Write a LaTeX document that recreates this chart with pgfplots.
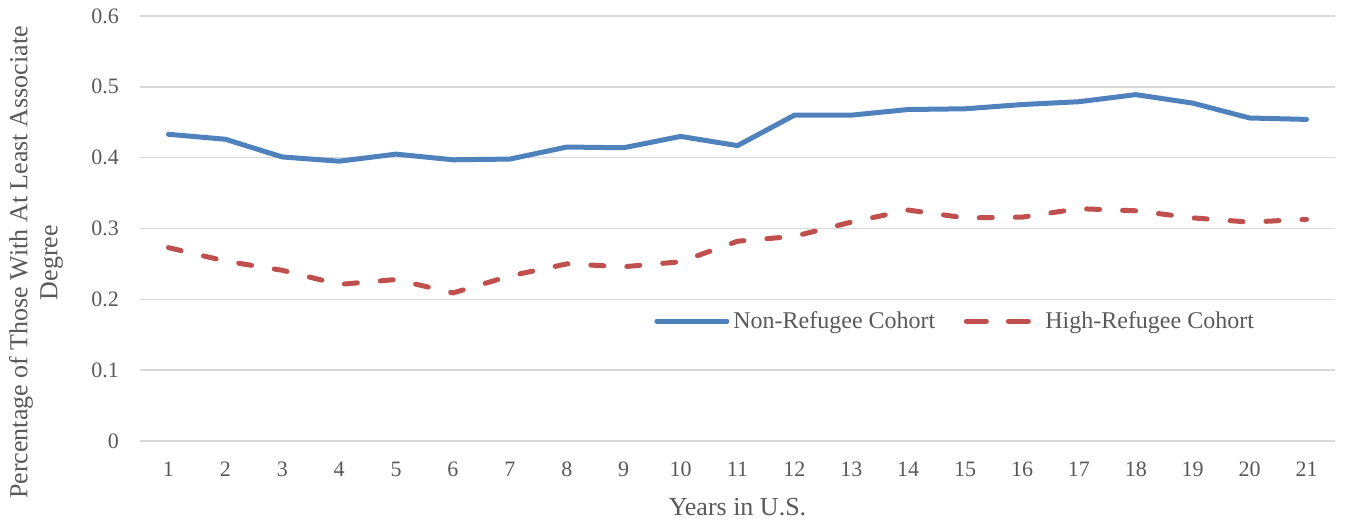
\documentclass[border=0pt]{standalone}
\usepackage{fontspec}
\setmainfont{Liberation Serif}
\usepackage{pgfplots}
\pgfplotsset{compat=1.18}
\definecolor{txtgray}{HTML}{595959}
\definecolor{gridgray}{HTML}{D9D9D9}
\definecolor{nonref}{HTML}{4F81BD}
\definecolor{highref}{HTML}{C0504D}
\begin{document}
\begin{tikzpicture}
\path[use as bounding box] (-70pt,-41pt) rectangle (602.5pt,220.5pt);
\begin{axis}[
    scale only axis,
    width=597.5pt, height=212.5pt,
    xmin=0.5, xmax=21.5,
    ymin=0, ymax=0.6,
    xtick={1,...,21},
    ytick={0,0.1,0.2,0.3,0.4,0.5,0.6},
    yticklabels={0,0.1,0.2,0.3,0.4,0.5,0.6},
    major tick length=0pt,
    axis line style={draw=none},
    ymajorgrids,
    grid style={gridgray, line width=0.7pt},
    /pgf/number format/assume math mode=true,
    tick label style={font=\fontsize{11}{13}\selectfont, text=txtgray},
    xticklabel style={yshift=-7pt},
    yticklabel style={xshift=-7pt},
    xlabel={Years in U.S.},
    ylabel={Percentage of Those With At Least Associate\\Degree},
    every axis x label/.style={at={(axis description cs:0.5,-0.155)}, anchor=center,
        font=\fontsize{13}{15}\selectfont, text=txtgray},
    every axis y label/.style={at={(axis description cs:-0.087,0.42)}, rotate=90, anchor=center,
        align=center, font=\fontsize{13}{15}\selectfont, text=txtgray},
    legend columns=2,
    legend style={draw=none, fill=none, at={(axis description cs:0.683,0.282)}, anchor=center,
        font=\fontsize{12}{14}\selectfont, text=txtgray,
        /tikz/every even column/.append style={column sep=11pt}},
    legend cell align=left,
]
\addplot[nonref, line width=2.5pt, line cap=round, line join=round,
    legend image code/.code={\draw[nonref, line width=2.5pt, line cap=round] (0pt,0pt) -- (35pt,0pt);}] coordinates {
    (1,0.433) (2,0.426) (3,0.401) (4,0.395) (5,0.405) (6,0.397) (7,0.398)
    (8,0.415) (9,0.414) (10,0.430) (11,0.417) (12,0.460) (13,0.460) (14,0.468)
    (15,0.469) (16,0.475) (17,0.479) (18,0.489) (19,0.477) (20,0.456) (21,0.454)
};
\addlegendentry{Non-Refugee Cohort}
\addplot[highref, line width=2.5pt, line cap=round, line join=round, dash pattern=on 6.5pt off 11.5pt,
    legend image code/.code={\path (-1.25pt,0pt) (36.25pt,0pt);
        \draw[highref, line width=2.5pt, line cap=round, dash pattern=on 10pt off 11pt] (0pt,0pt) -- (31pt,0pt);}] coordinates {
    (1,0.273) (2,0.254) (3,0.241) (4,0.221) (5,0.228) (6,0.209) (7,0.233)
    (8,0.250) (9,0.246) (10,0.253) (11,0.282) (12,0.289) (13,0.309) (14,0.326)
    (15,0.315) (16,0.316) (17,0.328) (18,0.325) (19,0.315) (20,0.309) (21,0.313)
};
\addlegendentry{High-Refugee Cohort}
\end{axis}
\end{tikzpicture}
\end{document}
